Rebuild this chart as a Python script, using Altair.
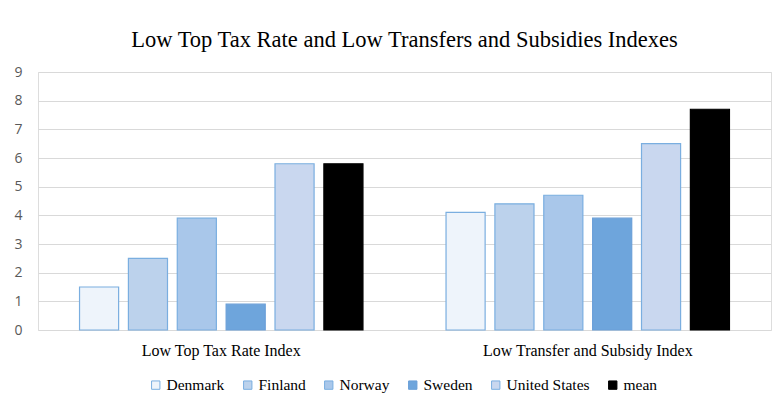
import altair as alt
import pandas as pd

categories = ["Low Top Tax Rate Index", "Low Transfer and Subsidy Index"]
series = ["Denmark", "Finland", "Norway", "Sweden", "United States", "mean"]
tax_index = [1.5, 2.5, 3.9, 0.9, 5.8, 5.8]
transfer_index = [4.1, 4.4, 4.7, 3.9, 6.5, 7.7]
fill_colors = ["#eef4fb", "#bcd2ec", "#a9c7ea", "#6ea5dc", "#c9d7ef", "#000000"]
stroke_colors = ["#7aaee0", "#7aaee0", "#7aaee0", "#6a9fd8", "#7aaee0", "#000000"]

rows = []
for s, v in zip(series, tax_index):
    rows.append({"category": categories[0], "series": s, "value": v})
for s, v in zip(series, transfer_index):
    rows.append({"category": categories[1], "series": s, "value": v})
df = pd.DataFrame(rows)

serif = "Liberation Serif"
sans = "Open Sans"

chart = alt.Chart(df).mark_bar(strokeWidth=1.2).encode(
    x=alt.X("category:N", sort=categories,
            scale=alt.Scale(paddingInner=0, paddingOuter=0),
            axis=alt.Axis(title=None, labelAngle=0, ticks=False, domain=False,
                          labelFont=serif, labelFontSize=16, labelColor="#000000",
                          labelPadding=12, labelLimit=0)),
    xOffset=alt.XOffset("series:N", sort=series,
                        scale=alt.Scale(paddingInner=0.2, paddingOuter=0.85)),
    y=alt.Y("value:Q", scale=alt.Scale(domain=[0, 9], nice=False),
            axis=alt.Axis(title=None, values=list(range(10)),
                          ticks=False, domain=False, labelFont=sans,
                          labelFontSize=14, labelColor="#595959",
                          labelPadding=16, labelOverlap=False,
                          gridColor="#d9d9d9", gridWidth=1)),
    fill=alt.Fill("series:N", sort=series,
                  scale=alt.Scale(domain=series, range=fill_colors),
                  legend=alt.Legend(title=None, orient="none", direction="horizontal",
                                    legendX=110, legendY=305,
                                    symbolType="square", symbolSize=70,
                                    symbolStrokeWidth=1,
                                    labelFont=serif, labelFontSize=15.5,
                                    labelColor="#000000", labelOffset=3,
                                    columnPadding=15, labelLimit=0)),
    stroke=alt.Stroke("series:N", sort=series,
                      scale=alt.Scale(domain=series, range=stroke_colors),
                      legend=None),
).properties(
    width=733,
    height=258,
    title=alt.Title("Low Top Tax Rate and Low Transfers and Subsidies Indexes",
                    font=serif, fontSize=22.5, fontWeight="normal",
                    color="#000000", anchor="middle", offset=14),
    autosize=alt.AutoSizeParams(type="none"),
    padding={"left": 30, "top": 64, "right": 2, "bottom": 72},
).configure_view(stroke=None).configure(background="#ffffff")

chart.save("out.html", embed_options={"renderer": "svg", "actions": False})
